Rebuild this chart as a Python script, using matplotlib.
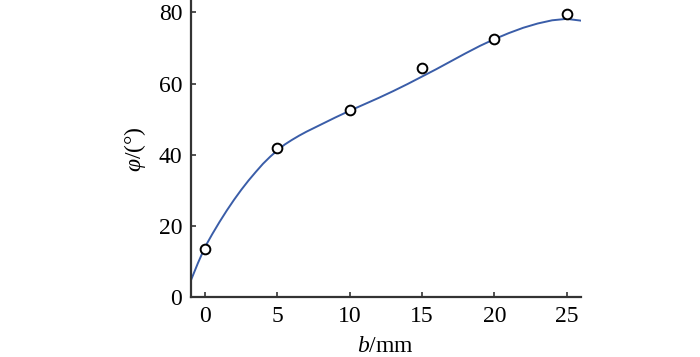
from matplotlib import pyplot as plt

plt.rcParams['font.family'] = 'Liberation Serif'
plt.rcParams['mathtext.fontset'] = 'custom'
plt.rcParams['mathtext.rm'] = 'Liberation Serif'
plt.rcParams['mathtext.it'] = 'Liberation Serif:italic'

# measured points
b_meas = [0, 5, 10, 15, 20, 25]
phi_meas = [13.5, 42.0, 52.5, 64.5, 72.5, 79.5]

# fitted curve
b_fit = [-1, -0.5, 0, 0.5, 1, 1.5, 2, 2.5, 3, 3.5, 4, 4.5, 5, 5.5, 6, 6.5,
         7, 7.5, 8, 9, 10, 11, 12, 13, 14, 15, 16, 17, 18, 19, 20, 21, 22,
         23, 24, 25, 26]
phi_fit = [4.6, 9.6, 14.2, 17.8, 21.2, 24.4, 27.4, 30.2, 32.8, 35.2, 37.5,
           39.5, 41.3, 42.9, 44.2, 45.4, 46.5, 47.5, 48.5, 50.5, 52.4, 54.2,
           56.0, 57.9, 59.9, 62.0, 64.1, 66.3, 68.5, 70.6, 72.5, 74.2, 75.7,
           76.9, 77.8, 78.2, 77.7]

fig = plt.figure(figsize=(7, 3.57), dpi=100)
ax = fig.add_axes([0.2724, 0.1672, 0.5577, 0.8328])

ax.plot(b_fit, phi_fit, color='#3a5da8', lw=1.4)
ax.plot(b_meas, phi_meas, 'o', ms=7, mfc='white', mec='black', mew=1.4)

ax.set_xlim(-1, 26)
ax.set_ylim(0, 83.5)
ax.set_xticks([0, 5, 10, 15, 20, 25])
ax.set_yticks([0, 20, 40, 60, 80])

for s in ['top', 'right']:
    ax.spines[s].set_visible(False)
for s in ['left', 'bottom']:
    ax.spines[s].set_linewidth(1.6)
    ax.spines[s].set_color('#333333')

ax.tick_params(direction='in', length=3.5, width=1.2, color='#333333',
               labelsize=17, pad=6)

ax.set_xlabel('$b$/mm', fontsize=17, labelpad=7)
ax.set_ylabel('$\\varphi$/(°)', fontsize=17, labelpad=8)

plt.savefig('out.png', dpi=100)
